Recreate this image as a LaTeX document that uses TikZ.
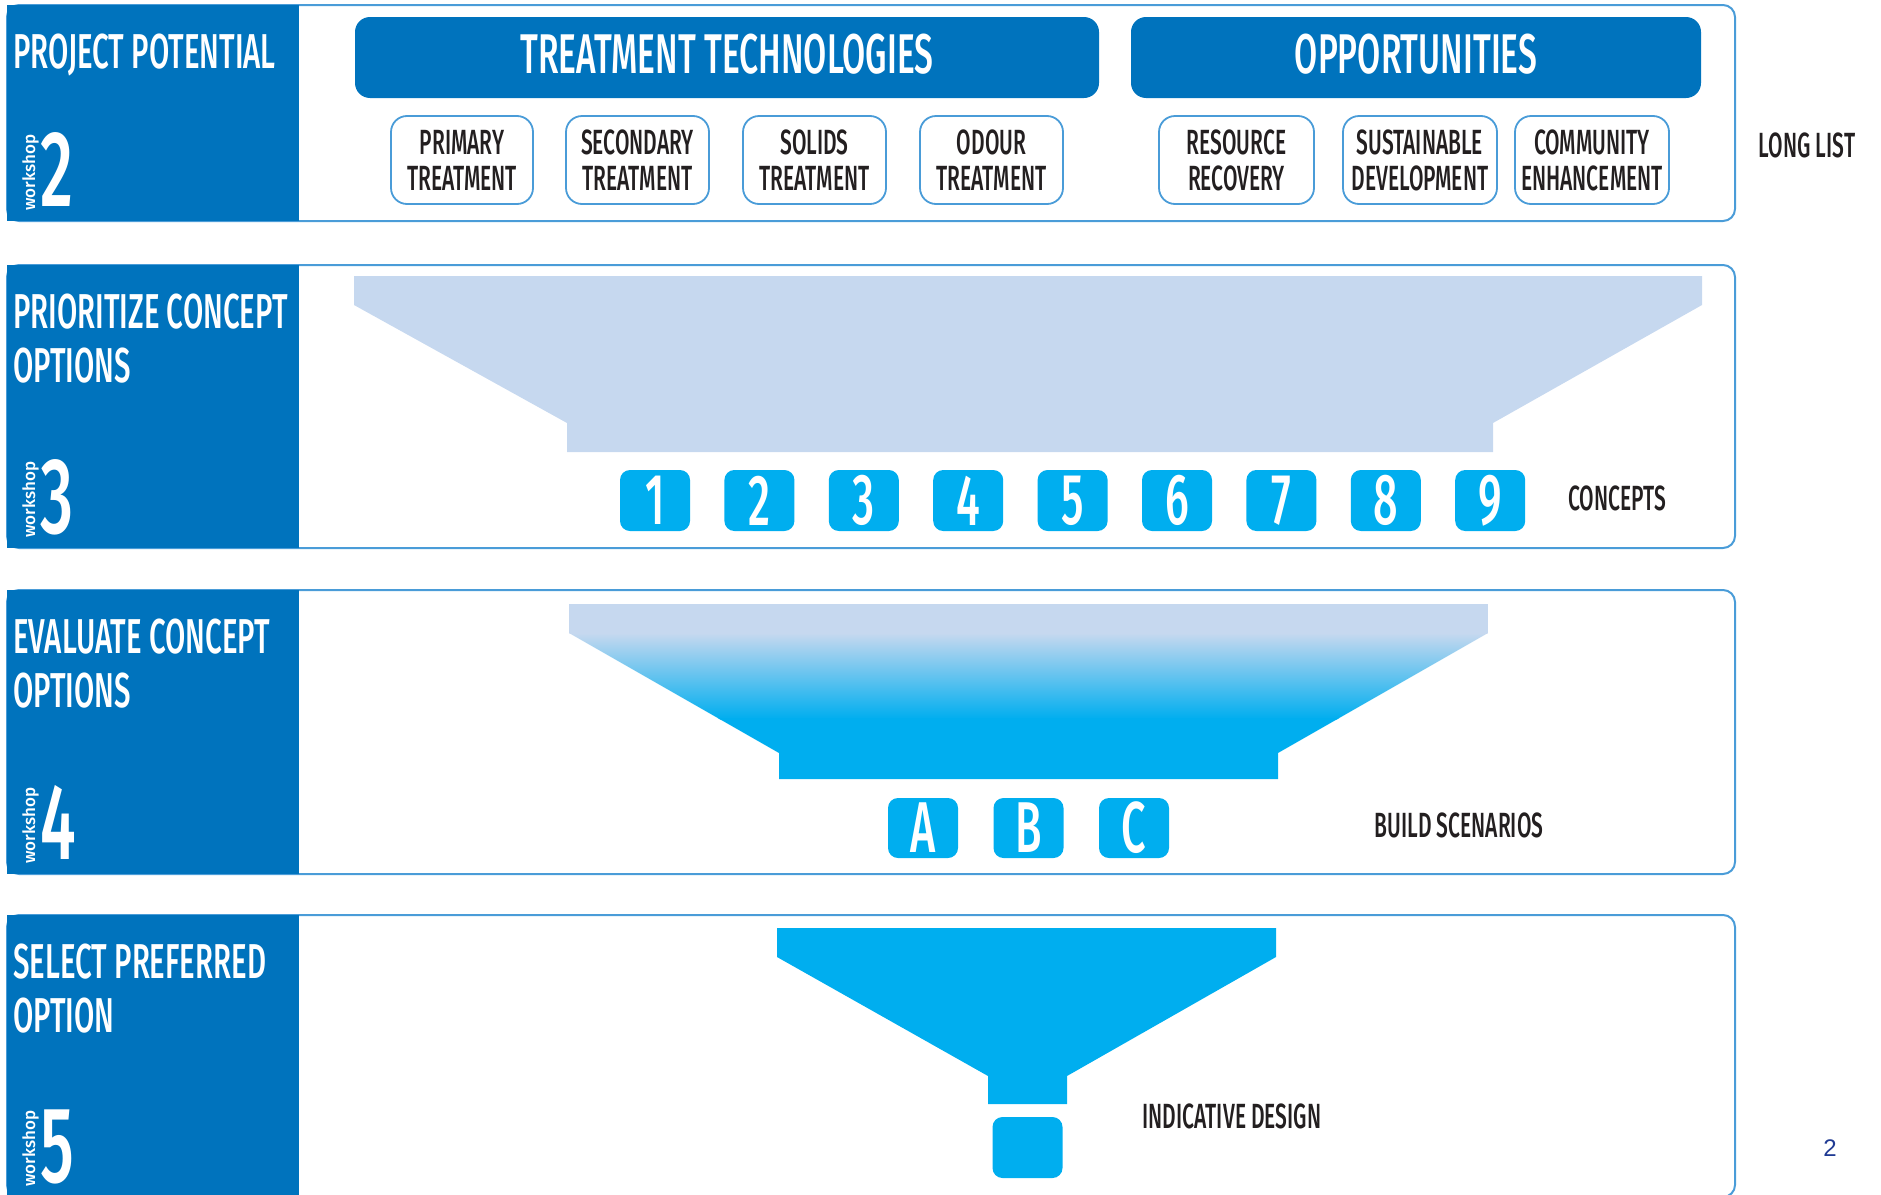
\documentclass[tikz,border=0pt]{standalone}
\usepackage{fontspec}
\setmainfont{Fira Sans}
\newfontfamily\condfont[FakeStretch=0.6]{Fira Sans Medium}
\newfontfamily\plainfont{Fira Sans Medium}
\newfontfamily\pagefont{Liberation Sans}
\usetikzlibrary{positioning}
\definecolor{hblue}{HTML}{0073BD}
\definecolor{hcyan}{HTML}{00AEEF}
\definecolor{hpale}{HTML}{C6D8EF}
\definecolor{hline}{HTML}{4A9CD8}
\definecolor{hink}{HTML}{231F20}
\definecolor{hnavy}{HTML}{1F3A93}

\begin{document}
\begin{tikzpicture}[x=1pt,y=-1pt,
      rowbox/.style = {draw=hline, line width=2pt, rounded corners=12pt},
      panel/.style = {fill=hblue},
      paneltitle/.style = {text=white, inner sep=0pt, anchor=base west, font=\condfont\fontsize{49}{54}\selectfont},
      wsword/.style = {text=white, inner sep=0pt, rotate=90, anchor=base west, font=\plainfont\fontsize{17}{20}\selectfont},
      wsnum/.style = {text=white, inner sep=0pt, anchor=base west, font=\condfont\fontsize{108}{110}\selectfont},
      head/.style = {fill=hblue, rounded corners=15pt, minimum height=81pt, text depth=8pt, text=white, font=\condfont\fontsize{56}{60}\selectfont},
      techbox/.style = {draw=hline, line width=1.8pt, rounded corners=16pt, fill=white, minimum height=88pt, align=center, inner sep=0pt, text=hink, font=\condfont\fontsize{35}{36}\selectfont},
      tag/.style = {text=hink, inner sep=0pt, font=\condfont\fontsize{35}{40}\selectfont},
      pick/.style = {fill=hcyan, rounded corners=10pt, minimum width=70pt, minimum height=61pt, inner sep=0pt, text=white, font=\condfont\fontsize{72}{72}\selectfont}]

      \useasboundingbox (0,0) rectangle (1881,1194);

      % Rows with the blue workshop panel on the left
      \foreach \top/\bot/\n/\lineA/\lineB in {5/221/2/{PROJECT POTENTIAL}/{},
                  265/548/3/{PRIORITIZE CONCEPT}/{OPTIONS},
                  590/874/4/{EVALUATE CONCEPT}/{OPTIONS},
                  915/1197/5/{SELECT PREFERRED}/{OPTION}} {
            \draw[rowbox] (7,\top) rectangle (1735,\bot);
            \fill[panel] (7,\top) rectangle (299,\bot);
            \node[paneltitle] (title\n) at (13,\top+63) {\lineA};
            \node[paneltitle] (sub\n) at (13,\top+117) {\lineB};
            \node[wsword] (ws\n) at (35,\bot-10) {workshop};
            \node[wsnum] (num\n) at (40,\bot-15) {\n};
      }

      % Long list: headers and technology boxes
      \node[head, minimum width=744pt] (tech) at (727,57.5) {TREATMENT TECHNOLOGIES};
      \node[head, minimum width=570pt] (opp) at (1416,57.5) {OPPORTUNITIES};

      \node[techbox, minimum width=142pt] (primary) at (462,160) {PRIMARY\\TREATMENT};
      \node[techbox, minimum width=143pt] (secondary) at (637.5,160) {SECONDARY\\TREATMENT};
      \node[techbox, minimum width=143pt] (solids) at (814.5,160) {SOLIDS\\TREATMENT};
      \node[techbox, minimum width=143pt] (odour) at (991.5,160) {ODOUR\\TREATMENT};
      \node[techbox, minimum width=155pt] (resource) at (1236.5,160) {RESOURCE\\RECOVERY};
      \node[techbox, minimum width=154pt] (sustain) at (1420,160) {SUSTAINABLE\\DEVELOPMENT};
      \node[techbox, minimum width=154pt] (community) at (1592,160) {COMMUNITY\\ENHANCEMENT};

      \node[tag] (longlist) at (1807,145) {LONG LIST};

      % Funnel of the concepts
      \fill[hpale] (354,276) -- (1702,276) -- (1702,305) -- (1493,423) -- (1493,452)
            -- (567,452) -- (567,423) -- (354,305) -- cycle;
      \foreach \n [count=\i from 0] in {1,...,9} {
            \node[pick] (concept\n) at ({655+104.4*\i},500.5) {\n};
      }
      \node[tag] (concepts) at (1617,498) {CONCEPTS};

      % Funnel of the scenarios, pale at the top and cyan below
      \begin{scope}
            \clip (569,604) -- (1488,604) -- (1488,633) -- (1278,753) -- (1278,779)
                  -- (779,779) -- (779,753) -- (569,633) -- cycle;
            \fill[hpale] (569,603) rectangle (1488,634);
            \shade[top color=hpale, bottom color=hcyan] (569,633) rectangle (1488,719);
            \fill[hcyan] (569,718) rectangle (1488,780);
      \end{scope}
      \foreach \s [count=\i from 0] in {A,B,C} {
            \node[pick, minimum height=60pt] (scen\s) at ({923+105.5*\i},828) {\s};
      }
      \node[tag] (build) at (1459,825) {BUILD SCENARIOS};

      % Last funnel and the single design
      \fill[hcyan] (777,928) -- (1276,928) -- (1276,957) -- (1067,1076) -- (1067,1104)
            -- (988,1104) -- (988,1076) -- (777,957) -- cycle;
      \node[pick] (design) at (1027.5,1147.5) {};
      \node[tag] (indicative) at (1232,1116) {INDICATIVE DESIGN};

      \node[text=hnavy, inner sep=0pt, font=\pagefont\fontsize{24}{24}\selectfont] (pageno) at (1830,1148) {2};

\end{tikzpicture}
\end{document}
